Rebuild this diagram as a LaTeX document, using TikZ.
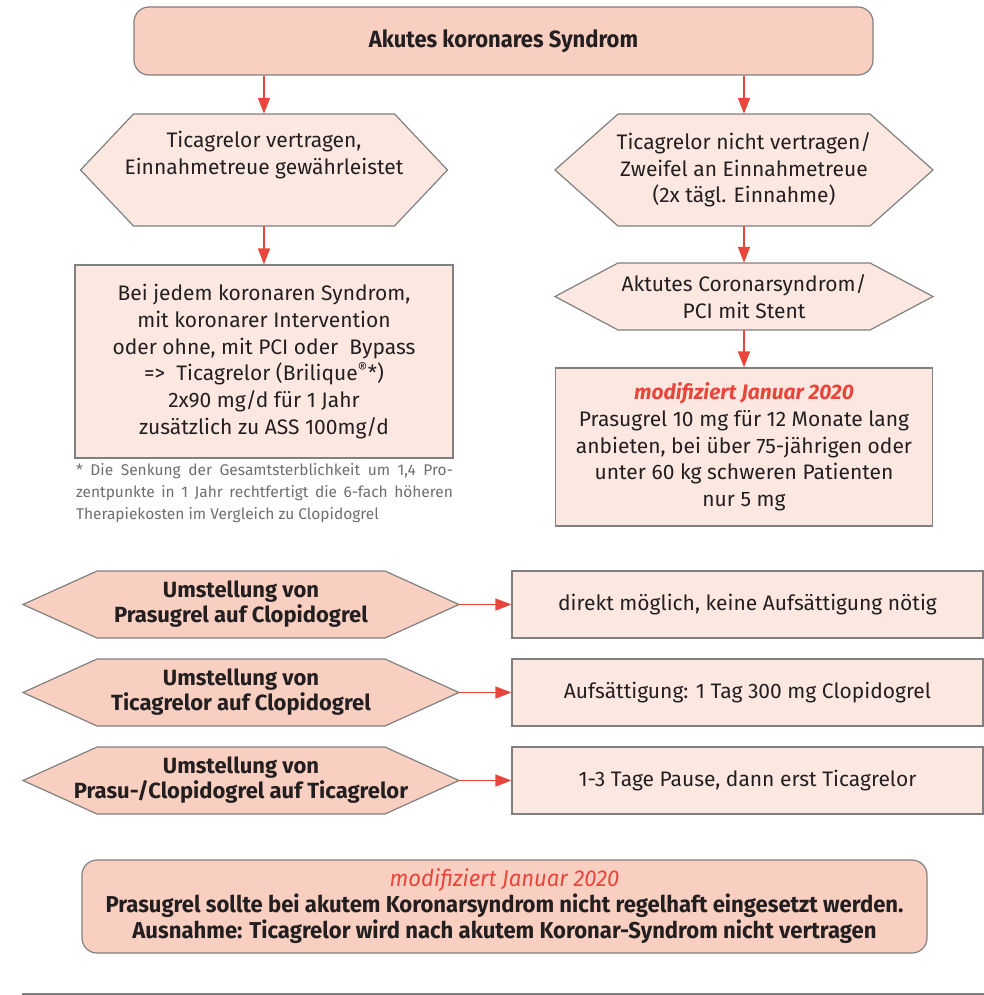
\documentclass[tikz,border=0pt]{standalone}
\usepackage{fontspec}
\setmainfont{Fira Sans}
\newfontfamily\condtop[FakeStretch=0.935]{Fira Sans}
\newfontfamily\condbot[FakeStretch=0.96]{Fira Sans}
\usetikzlibrary{arrows.meta}
\definecolor{dark}{HTML}{F8CFC0}
\definecolor{light}{HTML}{FCE8E1}
\definecolor{edge}{HTML}{808080}
\definecolor{accent}{HTML}{E8463C}
\definecolor{note}{HTML}{6E6E6E}
\definecolor{ink}{HTML}{231F20}
\tikzset{
  boxline/.style={draw=edge, line width=1.2pt},
  plainbox/.style={boxline, inner sep=0pt, align=center, text=ink,
    font=\fontsize{21}{26.7}\selectfont},
  roundbox/.style={boxline, fill=dark, rounded corners=15pt, inner sep=0pt, align=center, text=ink},
  hextext/.style={inner sep=0pt, align=center, text=ink, font=\fontsize{21}{26.7}\selectfont},
  hexbold/.style={inner sep=0pt, align=center, text=ink, font=\fontsize{22}{25}\selectfont\bfseries},
  flow/.style={draw=accent, line width=1.5pt, -{Triangle[length=16pt,width=12pt]}},
  redmark/.style={text=accent}
}
\newcommand\hexshape[6]{%
  \filldraw[boxline, fill=#6] ({#1-#3/2},#2) -- ++(#5,{-#4/2}) -- ++({#3-2*#5},0)
    -- ++(#5,{#4/2}) -- ++(-#5,{#4/2}) -- ++({-#3+2*#5},0) -- cycle;}
\begin{document}
\begin{tikzpicture}[x=1pt,y=-1pt]
\useasboundingbox (0,0) rectangle (984,995);

% top box
\node[roundbox, minimum width=739pt, minimum height=68pt,
  font=\fontsize{23.5}{26}\selectfont\condtop\bfseries] (top) at (503.5,41) {Akutes koronares Syndrom};

% left branch
\hexshape{264}{170}{367}{112}{53}{light}
\node[hextext, minimum width=367pt, minimum height=112pt] (h1) at (264,170)
  {Ticagrelor vertragen,\\Einnahmetreue gewährleistet\\\strut};
\node[plainbox, fill=light, minimum width=378pt, minimum height=193pt] (r1) at (264,361.5)
  {Bei jedem koronaren Syndrom,\\ mit koronarer Intervention\\oder ohne, mit PCI oder\ \ Bypass\\
   =>\ \ Ticagrelor (Brilique\textsuperscript{®}*)\\2x90 mg/d für 1 Jahr\\zusätzlich zu ASS 100mg/d};
\node[inner sep=0pt, text width=377pt, align=justify, text=note,
  font=\fontsize{15.5}{22}\selectfont, anchor=north] (fn) at (264.5,463)
  {* Die Senkung der Gesamtsterblichkeit um 1,4 Pro-\linebreak
   zentpunkte in 1 Jahr rechtfertigt die 6-fach höheren\linebreak
   Therapiekosten im Vergleich zu Clopidogrel};

% right branch
\hexshape{744}{170}{378}{112}{63}{light}
\node[hextext, minimum width=378pt, minimum height=112pt] (h2) at (744,170)
  {Ticagrelor nicht vertragen/\\Zweifel an Einnahmetreue\\(2x tägl. Einnahme)};
\hexshape{744}{296.5}{378}{67}{63}{light}
\node[hextext, minimum width=378pt, minimum height=67pt] (h3) at (744,296.5)
  {Aktutes Coronarsyndrom/\\PCI mit Stent};
\node[plainbox, fill=light, minimum width=377pt, minimum height=158pt] (r2) at (744,447)
  {{\bfseries\itshape\color{accent}modifiziert Januar 2020}\\Prasugrel 10 mg für 12 Monate lang\\
   anbieten, bei über 75-jährigen oder\\unter 60 kg schweren Patienten\\nur 5 mg};

\draw[flow] (top.south -| h1.north) -- (h1.north);
\draw[flow] (top.south -| h2.north) -- (h2.north);
\draw[flow] (h1.south) -- (r1.north);
\draw[flow] (h2.south) -- (h3.north);
\draw[flow] (h3.south) -- (r2.north);

% switching rows
\hexshape{241}{604.5}{436}{67}{74}{dark}
\node[hexbold, minimum width=436pt, minimum height=67pt] (u1) at (241,604.5)
  {Umstellung von\\Prasugrel auf Clopidogrel};
\node[plainbox, fill=light, minimum width=471pt, minimum height=67pt] (b1) at (747.5,604.5)
  {direkt möglich, keine Aufsättigung nötig};
\hexshape{241}{692.5}{436}{67}{74}{dark}
\node[hexbold, minimum width=436pt, minimum height=67pt] (u2) at (241,692.5)
  {Umstellung von\\Ticagrelor auf Clopidogrel};
\node[plainbox, fill=light, minimum width=471pt, minimum height=67pt] (b2) at (747.5,692.5)
  {Aufsättigung: 1 Tag 300 mg Clopidogrel};
\hexshape{241}{780.5}{436}{67}{74}{dark}
\node[hexbold, minimum width=436pt, minimum height=67pt] (u3) at (241,780.5)
  {Umstellung von\\Prasu-/Clopidogrel auf Ticagrelor};
\node[plainbox, fill=light, minimum width=471pt, minimum height=67pt] (b3) at (747.5,780.5)
  {1-3 Tage Pause, dann erst Ticagrelor};
\draw[flow] (u1.east) -- (b1.west);
\draw[flow] (u2.east) -- (b2.west);
\draw[flow] (u3.east) -- (b3.west);

% bottom box
\node[roundbox, minimum width=845pt, minimum height=93pt,
  font=\fontsize{23}{26}\selectfont\condbot] (bot) at (504.5,906.5)
  {{\itshape\color{accent}modifiziert Januar 2020}\\
   {\bfseries Prasugrel sollte bei akutem Koronarsyndrom nicht regelhaft eingesetzt werden.}\\
   {\bfseries Ausnahme: Ticagrelor wird nach akutem Koronar-Syndrom nicht vertragen}};

% bottom rule
\coordinate (ruleA) at (22,994);
\coordinate (ruleB) at (984,994);
\draw[draw=edge, line width=1.5pt] (ruleA) -- (ruleB);
\end{tikzpicture}
\end{document}
